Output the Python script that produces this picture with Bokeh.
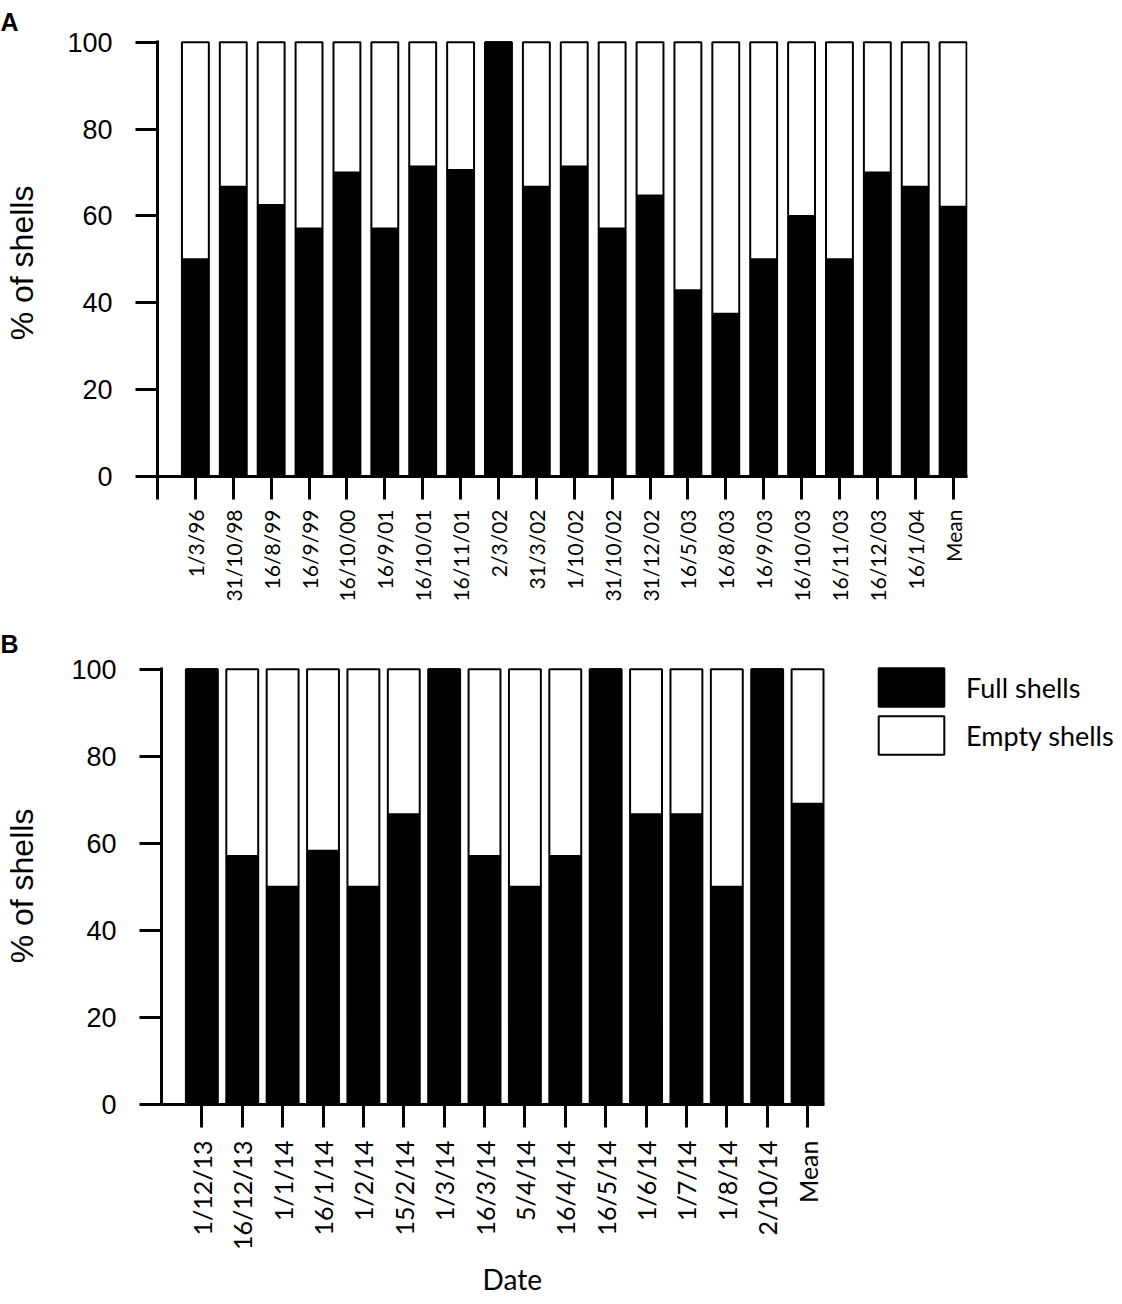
import numpy as np
from bokeh.plotting import figure
from bokeh.models import (Range1d, FixedTicker, Legend, LegendItem,
                          ColumnDataSource, Title)
from bokeh.embed import file_html
from bokeh.resources import INLINE

# ---- Panel A data ----
dates_a = ["1/3/96", "31/10/98", "16/8/99", "16/9/99", "16/10/00", "16/9/01",
           "16/10/01", "16/11/01", "2/3/02", "31/3/02", "1/10/02", "31/10/02",
           "31/12/02", "16/5/03", "16/8/03", "16/9/03", "16/10/03", "16/11/03",
           "16/12/03", "16/1/04", "Mean"]
full_a = [50, 66.7, 62.5, 57.1, 70, 57.1, 71.4, 70.6, 100, 66.7, 71.4, 57.1,
          64.7, 42.9, 37.5, 50, 60, 50, 70, 66.7, 62.1]
empty_a = [50, 33.3, 37.5, 42.9, 30, 42.9, 28.6, 29.4, 0, 33.3, 28.6, 42.9,
           35.3, 57.1, 62.5, 50, 40, 50, 30, 33.3, 37.9]

# ---- Panel B data ----
dates_b = ["1/12/13", "16/12/13", "1/1/14", "16/1/14", "1/2/14", "15/2/14",
           "1/3/14", "16/3/14", "5/4/14", "16/4/14", "16/5/14", "1/6/14",
           "1/7/14", "1/8/14", "2/10/14", "Mean"]
full_b = [100, 57.1, 50, 58.3, 50, 66.7, 100, 57.1, 50, 57.1, 100, 66.7,
          66.7, 50, 100, 69.1]
empty_b = [0, 42.9, 50, 41.7, 50, 33.3, 0, 42.9, 50, 42.9, 0, 33.3,
           33.3, 50, 0, 30.9]

y_ticks = [0, 20, 40, 60, 80, 100]
series_names = ["Full shells", "Empty shells"]
series_colors = ["#000000", "#ffffff"]


def make_panel(letter, dates, full, empty, ylabel, height, borders, bar_width,
               x_end, tick_font_size, tick_standoff, tick_at_zero,
               title_standoff, ylabel_standoff):
    n = len(dates)
    xs = list(range(1, n + 1))
    src = ColumnDataSource(dict(x=xs, full=full, empty=empty))
    bl, br, bt, bb = borders
    axis_end = n + bar_width / 2 + 0.025
    p = figure(width=1122, height=height, output_backend="svg",
               toolbar_location=None,
               x_range=Range1d(0, x_end if x_end else axis_end),
               y_range=Range1d(0, 100.4),
               min_border_left=bl, min_border_right=br,
               min_border_top=bt, min_border_bottom=bb)
    rs = p.vbar_stack(["full", "empty"], x="x", width=bar_width, source=src,
                      fill_color=series_colors, line_color="#000000",
                      line_width=2)
    p.xgrid.visible = False
    p.ygrid.visible = False
    p.outline_line_color = None
    p.background_fill_color = "white"

    # panel letter
    p.title.text = letter
    p.title.text_font = "Liberation Sans"
    p.title.text_font_style = "bold"
    p.title.text_font_size = "25px"
    p.title.text_color = "#000000"
    p.title.align = "left"
    p.title.offset = -bl
    p.title.standoff = title_standoff

    xa = p.xaxis[0]
    xa.bounds = (0, axis_end)
    ticks = ([0] if tick_at_zero else []) + xs
    xa.ticker = FixedTicker(ticks=ticks)
    overrides = {i + 1: d for i, d in enumerate(dates)}
    overrides[0] = ""
    xa.major_label_overrides = overrides
    xa.major_label_orientation = np.pi / 2
    xa.axis_line_width = 3
    xa.major_tick_line_width = 3
    xa.major_tick_out = 23
    xa.major_tick_in = 0
    xa.minor_tick_line_color = None
    xa.major_label_text_font = "Lato"
    xa.major_label_text_font_size = tick_font_size
    xa.major_label_text_color = "#000000"
    xa.major_label_standoff = tick_standoff

    ya = p.yaxis[0]
    ya.ticker = FixedTicker(ticks=y_ticks)
    ya.axis_line_width = 3
    ya.major_tick_line_width = 3
    ya.major_tick_out = 22
    ya.major_tick_in = 0
    ya.minor_tick_line_color = None
    ya.major_label_text_font = "Liberation Sans"
    ya.major_label_text_font_size = "27px"
    ya.major_label_text_color = "#000000"
    ya.major_label_standoff = 23
    ya.axis_label = ylabel
    ya.axis_label_text_font = "Liberation Sans"
    ya.axis_label_text_font_size = "32px"
    ya.axis_label_text_font_style = "normal"
    ya.axis_label_text_color = "#000000"
    ya.axis_label_standoff = ylabel_standoff
    return p, rs


pA, rsA = make_panel("A", dates_a, full_a, empty_a, "% of  shells", 618,
                     (157, 155, 40, 142), 0.71, None, "21px", 10, True, 10, 24)
pB, rsB = make_panel("B", dates_b, full_b, empty_b, "% of shells", 686,
                     (161, 0, 49, 200), 0.79, 23.80, "25px", 13, False, 19, 28)

# x-axis title of panel B, placed below the axis, centred under the bars
date_title = Title(text="Date", align="left", offset=321, standoff=13,
                   text_font="Lato", text_font_size="28px",
                   text_font_style="normal", text_color="#000000")
pB.add_layout(date_title, "below")

legend = Legend(items=[LegendItem(label=series_names[0], renderers=[rsB[0]]),
                       LegendItem(label=series_names[1], renderers=[rsB[1]])],
                location=(709, 345), orientation="vertical",
                glyph_width=82, glyph_height=48, spacing=0, padding=0, margin=0,
                label_standoff=14, label_text_font="Lato",
                label_text_font_size="27px", label_text_color="#000000",
                border_line_color=None, background_fill_alpha=0)
pB.add_layout(legend)

open("out.html", "w").write(file_html([pA, pB], INLINE))
